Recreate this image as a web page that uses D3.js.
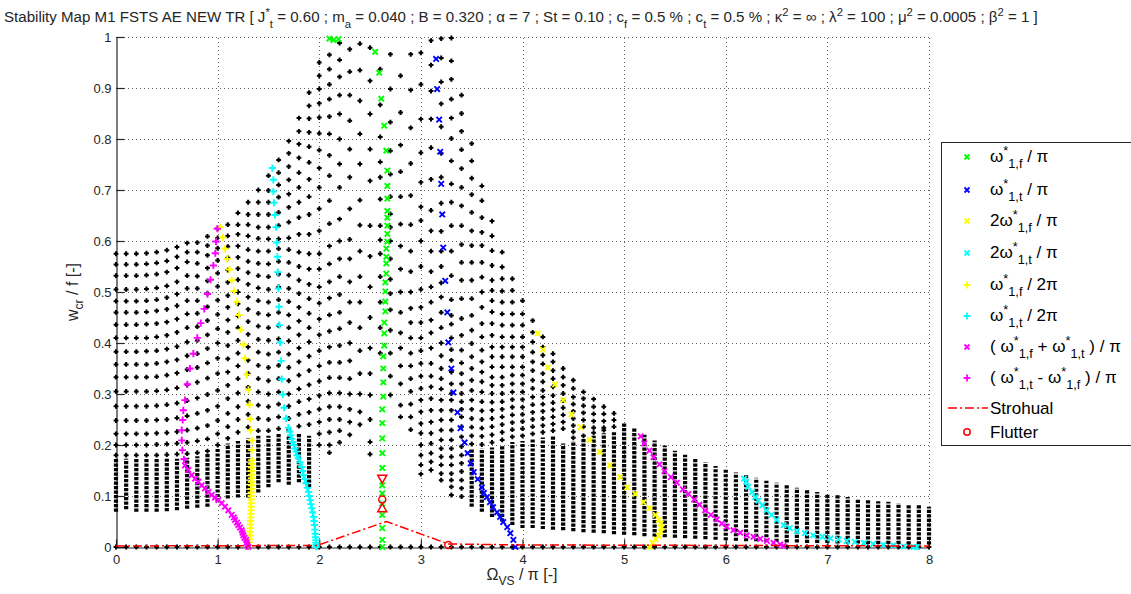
<!DOCTYPE html>
<html>
<head>
<meta charset="utf-8">
<script src="https://cdn.jsdelivr.net/npm/d3@7"></script>
<style>
  body { margin: 0; background: #fff; }
  text { font-family: "Liberation Sans", Arial, Helvetica, sans-serif; white-space: pre; }
</style>
</head>
<body>
<div id="chart"></div>
<script>
// ---- data ----
const xTicks = [0, 1, 2, 3, 4, 5, 6, 7, 8];
const yTicks = [0, 0.1, 0.2, 0.3, 0.4, 0.5, 0.6, 0.7, 0.8, 0.9, 1];

// Omega columns of the black stability points
const colX = [0,.1,.2,.3,.4,.5,.6,.7,.8,.9,1,1.1,1.2,1.3,1.4,1.5,1.6,1.7,1.8,1.9,2,2.1,2.2,2.3,2.4,2.5,2.6,2.7,2.8,2.9,
  3,3.1,3.2,3.3,3.4,3.5,3.6,3.7,3.8,3.9,4,4.1,4.2,4.3,4.4,4.5,4.6,4.7,4.8,4.9,5,5.1,5.2,5.3,5.4,5.5,5.6,5.7,5.8,5.9,
  6,6.1,6.2,6.3,6.4,6.5,6.6,6.7,6.8,6.9,7,7.1,7.2,7.3,7.4,7.5,7.6,7.7,7.8,7.9,8];

// dense part of each column (w_cr in 1/1000), null = no dense band
const bandLo = [72,77,72,72,72,73,75,78,80,82,92,98,100,100,110,120,130,125,130,120,
  null,null,null,null,null,null,null,null,null,null,null,null,null,null,null,
  82,72,62,53,46,40,40,38,37,36,34,32,31,30,28,27,26,24,23,22,21,20,19,18,17,
  16,15,14,14,13,13,12,12,11,11,11,10,10,10,9,9,9,9,8,8,8];
const bandHi = [170,170,170,170,170,170,170,172,175,180,190,200,205,210,215,215,220,215,220,215,
  null,null,null,null,null,null,null,null,null,null,null,null,null,null,null,
  190,190,192,197,203,205,210,212,215,200,205,210,215,220,222,240,230,217,206,196,186,178,170,163,156,
  149,143,138,133,127,123,118,113,109,105,101,99,95,92,90,87,86,83,80,79,76];

// single points of each column (w_cr in 1/1000)
const colDots = [
  [180,200,222,248,276,305,333,358,383,410,436,460,482,505,532,554,575],
  [180,200,222,248,276,305,333,358,383,410,436,460,482,505,532,554,575],
  [180,200,222,248,276,305,333,358,383,410,436,460,482,505,532,554,575],
  [180,200,222,248,276,305,333,358,384,410,437,461,483,506,533,555,576],
  [180,201,223,249,277,306,334,360,385,412,438,463,485,508,535,557,578],
  [181,202,224,250,279,308,337,363,388,415,441,466,489,512,539,561,582],
  [182,203,226,253,282,312,341,367,393,421,447,473,496,520,547,569,588],
  [183,205,229,257,287,318,348,375,402,430,457,483,507,532,559,578,596],
  [185,208,233,262,292,323,352,379,405,432,458,483,507,531,556,578,597],
  [188,212,238,268,299,331,361,389,416,444,471,497,522,547,572,591,609],
  [200,222,248,276,307,340,370,400,428,456,484,511,537,562,586,606,625],
  [213,236,262,291,317,343,369,395,421,445,470,493,519,543,567,589,610,632],
  [225,250,275,302,330,355,380,405,430,453,477,500,524,546,568,590,613,632,655],
  [235,260,286,313,340,366,392,417,442,466,490,515,538,560,583,610,632,652,676],
  [228,252,278,304,330,356,382,407,433,458,483,508,532,556,580,605,627,652,676,700],
  [228,250,275,300,326,352,378,405,430,455,480,505,530,555,580,604,627,652,676,699,728],
  [232,255,280,304,330,356,382,408,434,460,485,510,535,560,585,604,630,656,686,710,734,759],
  [230,252,276,300,326,352,378,404,430,455,481,507,533,558,583,606,637,666,692,720,746,772,796],
  [237,260,285,310,337,363,390,416,443,470,497,523,550,578,613,646,676,705,734,763,790,815,841],
  [240,264,290,318,346,374,402,430,458,487,515,545,575,613,652,687,721,754,785,813,840,865,891],
  [200,222,245,270,297,325,355,385,416,447,478,510,545,575,620,663,705,743,778,811,842,870,898,924,950],
  [185,200,225,250,275,302,332,362,392,423,455,488,520,555,590,634,679,728,768,810,844,878,907,937,965],
  [205,228,250,275,302,332,362,395,428,460,495,530,565,600,643,705,751,800,849,886,922,955,988],
  [220,245,270,300,330,365,400,440,480,520,565,603,663,725,780,836,886,932,976],
  [240,265,300,340,385,430,480,530,580,631,680,751,810,875,935,987],
  [182,206,250,298,340,390,450,510,570,630,718,780,849,914,979],
  [380,430,480,530,575,602,630,682,725,755,804,867,937],
  [298,335,380,425,465,497,525,565,600,627,653,687,731,777,833,898,966],
  [255,278,320,355,390,420,460,500,545,590,633,687,736,788,852,924],
  [230,255,280,305,330,355,380,410,440,468,500,540,580,632,689,752,822,896,966],
  [143,161,180,200,223,242,265,288,311,335,360,385,410,440,470,505,550,600,640,667,715,773,839,907,969],
  [151,167,184,203,223,245,268,291,314,335,360,390,420,445,480,510,540,580,620,660,721,783,839,894,945,993],
  [131,144,161,177,193,210,229,249,268,288,310,330,350,375,400,430,460,490,518,550,580,619,674,725,772,824,869,912,959,997],
  [102,118,131,144,161,177,193,210,229,249,268,288,301,320,343,366,387,410,437,454,485,532,580,630,676,712,757,801,841,878,917,953,998],
  [99,115,131,148,164,180,197,216,236,255,270,285,301,320,340,361,386,415,448,487,523,558,593,630,669,705,742,779,815,850,886],
  [202,218,235,252,270,288,307,327,350,373,399,425,454,487,523,558,591,620,656,691,723,757,791],
  [201,217,233,250,267,285,304,324,343,363,386,412,438,470,500,529,558,591,617,646,679,708],
  [205,220,236,252,268,284,301,317,333,353,373,392,415,438,461,483,503,523,552,581,610,639],
  [210,225,240,255,270,285,301,317,333,353,373,392,412,435,457,480,502,526,549,578],
  [216,230,244,259,274,289,304,320,337,353,373,392,412,435,457,480,503,526],
  [218,232,246,260,274,289,304,320,337,353,373,392,412,435,457,483],
  [222,236,250,264,279,294,311,327,346,363,382,402,421,444],
  [225,238,252,266,280,294,307,324,340,359,376,392,412],
  [228,241,255,269,283,297,314,330,346,363,379],
  [232,245,259,273,287,301,317,333,350],
  [214,226,238,252,266,280,294,311,327],
  [218,236,249,263,277,291,304],
  [224,234,247,261,275,290],
  [229,234,247,261,275],
  [236,249,262],
  [],[],[],[],[],[],[],[],[],[],[],[],[],[],[],[],[],[],[],[],[],[],[],[],[],[],[],[],[],[],[]
];

// resonance curves [Omega/pi, w_cr/f]
const omega1f = [[2.10,.997],[2.14,.994],[2.19,.996],[2.55,.971],[2.59,.93],[2.61,.879],[2.64,.826],[2.66,.777],
  [2.67,.738],[2.67,.708],[2.67,.683],[2.67,.659],[2.67,.646],[2.67,.63],[2.67,.614],[2.67,.599],[2.66,.585],
  [2.66,.569],[2.66,.556],[2.66,.536],[2.65,.519],[2.65,.501],[2.65,.481],[2.65,.462],[2.64,.44],[2.64,.419],
  [2.64,.395],[2.63,.374],[2.63,.35],[2.63,.323],[2.63,.295],[2.62,.27],[2.62,.243],[2.62,.213],[2.62,.184],
  [2.62,.155],[2.62,.121],[2.62,.105],[2.62,.085],[2.62,.063],[2.62,.037],[2.62,.014],[2.62,0]];
const omega1t = [[3.15,.957],[3.16,.898],[3.18,.838],[3.19,.775],[3.2,.712],[3.21,.652],[3.22,.587],[3.24,.522],
  [3.26,.46],[3.27,.401],[3.3,.35],[3.32,.303],[3.36,.264],[3.39,.233],[3.43,.205],[3.46,.184],[3.49,.164],
  [3.52,.147],[3.56,.133],[3.6,.117],[3.62,.106],[3.65,.098],[3.68,.088],[3.71,.078],[3.75,.068],[3.78,.059],
  [3.81,.049],[3.85,.039],[3.88,.027],[3.91,.014],[3.93,0]];
const twoOmega1f = [[4.15,.419],[4.2,.387],[4.25,.352],[4.32,.319],[4.4,.288],[4.48,.26],[4.57,.235],[4.66,.21],
  [4.76,.186],[4.86,.16],[4.96,.137],[5.03,.117],[5.11,.104],[5.19,.088],[5.25,.076],[5.31,.063],[5.34,.053],
  [5.36,.046],[5.37,.038],[5.36,.03],[5.34,.022],[5.31,.015],[5.28,.008],[5.25,0]];
const twoOmega1t = [[6.18,.134],[6.2,.128],[6.22,.118],[6.26,.108],[6.29,.098],[6.32,.091],[6.36,.082],[6.4,.072],
  [6.45,.063],[6.5,.053],[6.57,.043],[6.63,.037],[6.7,.031],[6.78,.027],[6.86,.023],[6.95,.02],[7.03,.017],
  [7.11,.015],[7.19,.012],[7.27,.01],[7.36,.008],[7.45,.006],[7.55,.004],[7.65,.003],[7.75,.001],[7.85,0],[7.88,0]];
const halfOmega1f = [[1.024,.627],[1.05,.607],[1.073,.585],[1.095,.565],[1.115,.544],[1.139,.523],[1.161,.502],
  [1.188,.481],[1.211,.455],[1.228,.426],[1.253,.397],[1.27,.37],[1.287,.338],[1.303,.308],[1.313,.279],
  [1.319,.251],[1.326,.229],[1.336,.209],[1.336,.19],[1.336,.17],[1.335,.163],[1.335,.156],[1.335,.149],
  [1.335,.142],[1.334,.135],[1.333,.128],[1.333,.121],[1.332,.114],[1.331,.107],[1.33,.1],[1.33,.093],
  [1.33,.086],[1.329,.079],[1.328,.072],[1.327,.065],[1.326,.058],[1.325,.051],[1.323,.044],[1.321,.037],
  [1.319,.03],[1.317,.023],[1.314,.016],[1.311,.009],[1.307,.003]];
const halfOmega1t = [[1.538,.743],[1.548,.72],[1.548,.697],[1.555,.675],[1.565,.651],[1.575,.627],[1.582,.597],
  [1.588,.569],[1.592,.539],[1.598,.507],[1.604,.471],[1.607,.435],[1.614,.401],[1.624,.365],[1.631,.329],
  [1.641,.299],[1.654,.273],[1.673,.252],[1.696,.234],[1.71,.226],[1.719,.219],[1.73,.212],[1.739,.206],
  [1.75,.2],[1.762,.193],[1.772,.187],[1.78,.18],[1.794,.174],[1.81,.166],[1.828,.157],[1.836,.149],
  [1.844,.141],[1.857,.133],[1.87,.125],[1.882,.116],[1.894,.108],[1.902,.1],[1.91,.092],[1.918,.084],
  [1.927,.076],[1.935,.068],[1.943,.059],[1.948,.051],[1.953,.043],[1.957,.034],[1.96,.026],[1.963,.019],
  [1.966,.013],[1.968,.008],[1.969,.004],[1.97,0]];
const sumOmega = [[0.679,.16],[0.712,.151],[0.745,.141],[0.778,.134],[0.81,.128],[0.843,.121],[0.876,.115],
  [0.909,.108],[0.942,.102],[0.974,.097],[1.007,.092],[1.04,.086],[1.073,.079],[1.105,.072],[1.138,.063],
  [1.16,.058],[1.171,.053],[1.19,.048],[1.204,.043],[1.22,.038],[1.237,.033],[1.245,.028],[1.253,.023],
  [1.265,.018],[1.28,.014],[1.287,.009],[1.293,.004],[1.302,0],
  [5.164,.217],[5.197,.203],[5.249,.189],[5.289,.176],[5.348,.162],[5.397,.149],[5.46,.137],[5.519,.126],
  [5.578,.113],[5.633,.104],[5.689,.093],[5.741,.083],[5.797,.072],[5.853,.063],[5.912,.054],[5.961,.046],
  [6.01,.04],[6.076,.033],[6.142,.028],[6.207,.023],[6.273,.02],[6.339,.016],[6.405,.012],[6.47,.008],
  [6.536,.005],[6.568,.002]];
const diffOmega = [[0.997,.624],[0.984,.599],[0.977,.576],[0.958,.552],[0.93,.524],[0.9,.496],[0.868,.467],
  [0.834,.439],[0.8,.41],[0.761,.379],[0.728,.35],[0.702,.319],[0.679,.288],[0.662,.268],[0.656,.249],
  [0.647,.229],[0.647,.209],[0.653,.19],[0.669,.172]];
const strouhal = [[0,.002],[1.98,.003],[2.66,.05],[3.27,.006],[4,.004],[8,.002]];
const flutter = [[2.62,.093],[3.27,.004]];
const flutterDown = [[2.62,.134]];
const flutterUp = [[2.62,.076]];

// ---- drawing ----
const W = 1131, H = 594;
const svg = d3.select("#chart").append("svg").attr("width", W).attr("height", H);
const x = d3.scaleLinear().domain([0, 8]).range([116, 929]);
const y = d3.scaleLinear().domain([0, 1]).range([547, 37]);
const ink = "#262626";

// writes text with sub (1) / superscript (2) parts
function rich(t, parts, size, subDy, supDy) {
  let cur = 0;
  parts.forEach(([s, m]) => {
    const off = m === 1 ? subDy : m === 2 ? -supDy : 0;
    t.append("tspan").attr("dy", off - cur).attr("font-size", m ? size * 0.75 : size).text(s);
    cur = off;
  });
  return t;
}

// title
rich(svg.append("text").attr("x", 4).attr("y", 22).attr("fill", ink),
  [["Stability Map M1 FSTS AE NEW TR [ J"], ["*", 2], ["t", 1], [" = 0.60 ; m"], ["a", 1],
   [" = 0.040 ; B = 0.320 ; α = 7 ; St = 0.10 ; c"], ["f", 1], [" = 0.5 % ; c"], ["t", 1],
   [" = 0.5 % ; κ"], ["2", 2], [" = ∞ ; λ"], ["2", 2], [" = 100 ; μ"], ["2", 2], [" = 0.0005 ; β"], ["2", 2],
   [" = 1 ]"]], 15.1, 6, 6);

// dotted grid
const grid = svg.append("g").attr("stroke", "#666").attr("stroke-dasharray", "1,3")
  .attr("shape-rendering", "crispEdges");
grid.selectAll(".gx").data(xTicks.slice(1)).join("line")
  .attr("x1", d => Math.round(x(d)) + 0.5).attr("x2", d => Math.round(x(d)) + 0.5)
  .attr("y1", y(0)).attr("y2", y(1));
grid.selectAll(".gy").data(yTicks.slice(1)).join("line")
  .attr("y1", d => Math.round(y(d)) + 0.5).attr("y2", d => Math.round(y(d)) + 0.5)
  .attr("x1", x(0)).attr("x2", x(8));

// axes (ticks pointing inward, MATLAB style)
const yAxis = d3.axisLeft(y).tickValues(yTicks).tickSize(-8).tickSizeOuter(0).tickPadding(5)
  .tickFormat(d3.format("~g"));
const xAxis = d3.axisBottom(x).tickValues(xTicks).tickSize(-8).tickSizeOuter(0).tickPadding(7)
  .tickFormat(d3.format("~g"));
[svg.append("g").attr("transform", `translate(${x(0) + 0.5},0)`).call(yAxis),
 svg.append("g").attr("transform", `translate(0,${y(0) + 0.5})`).call(xAxis)].forEach(g => {
  g.select(".domain").attr("stroke", ink).attr("stroke-width", 1.2);
  g.selectAll(".tick line").attr("stroke", ink).attr("stroke-width", 1.2);
  g.selectAll("text").attr("fill", ink).attr("font-size", 13)
    .attr("font-family", '"Liberation Sans", Arial, sans-serif');
});

// axis labels
rich(svg.append("text").attr("transform", "translate(78,292) rotate(-90)").attr("text-anchor", "middle")
    .attr("fill", ink), [["w"], ["cr", 1], [" / f [-]"]], 16, 5, 6);
rich(svg.append("text").attr("x", 522).attr("y", 580).attr("text-anchor", "middle")
    .attr("fill", ink), [["Ω"], ["VS", 1], [" / π [-]"]], 16, 5, 6);

const plot = svg.append("g");

// black stability points: dense bands + single points + baseline row
plot.append("g").selectAll("line").data(colX.map((c, i) => [c, bandLo[i], bandHi[i]]).filter(d => d[1] != null))
  .join("line")
  .attr("x1", d => x(d[0])).attr("x2", d => x(d[0]))
  .attr("y1", d => y(d[1] / 1000) + 1.5).attr("y2", d => y(d[2] / 1000) - 1.5)
  .attr("stroke", "#000").attr("stroke-width", 4.2).attr("stroke-dasharray", "3.2,1.3");
const singles = [];
colX.forEach((c, i) => { colDots[i].forEach(v => singles.push([c, v / 1000])); singles.push([c, 0]); });
const dotShape = "M-1,-2.4h2v1.4h1.4v2h-1.4v1.4h-2v-1.4h-1.4v-2h1.4z";
plot.append("g").selectAll("path").data(singles).join("path")
  .attr("transform", d => `translate(${x(d[0])},${y(d[1])})`)
  .attr("d", dotShape).attr("fill", "#000");

const shapes = {
  x: s => `M${-s},${-s}L${s},${s}M${-s},${s}L${s},${-s}`,
  plus: s => `M${-s},0H${s}M0,${-s}V${s}`
};
function marks(pts, shape, color) {
  plot.append("g").selectAll("path").data(pts).join("path")
    .attr("transform", d => `translate(${x(d[0])},${y(d[1])})`)
    .attr("d", shape === "x" ? shapes.x(2.7) : shapes.plus(3.6))
    .attr("fill", "none").attr("stroke", color).attr("stroke-width", 1.9);
}

const series = [
  { pts: omega1f, shape: "x", color: "#00ff00", label: [["ω"], ["*", 2], ["1,f", 1], [" / π"]] },
  { pts: omega1t, shape: "x", color: "#0000ff", label: [["ω"], ["*", 2], ["1,t", 1], [" / π"]] },
  { pts: twoOmega1f, shape: "x", color: "#ffff00", label: [["2ω"], ["*", 2], ["1,f", 1], [" / π"]] },
  { pts: twoOmega1t, shape: "x", color: "#00ffff", label: [["2ω"], ["*", 2], ["1,t", 1], [" / π"]] },
  { pts: halfOmega1f, shape: "plus", color: "#ffff00", label: [["ω"], ["*", 2], ["1,f", 1], [" / 2π"]] },
  { pts: halfOmega1t, shape: "plus", color: "#00ffff", label: [["ω"], ["*", 2], ["1,t", 1], [" / 2π"]] },
  { pts: sumOmega, shape: "x", color: "#ff00ff",
    label: [["( ω"], ["*", 2], ["1,f", 1], [" + ω"], ["*", 2], ["1,t", 1], [" ) / π"]] },
  { pts: diffOmega, shape: "plus", color: "#ff00ff",
    label: [["( ω"], ["*", 2], ["1,t", 1], [" - ω"], ["*", 2], ["1,f", 1], [" ) / π"]] }
];
series.forEach(s => marks(s.pts, s.shape, s.color));

// Strouhal line
plot.append("path").datum(strouhal)
  .attr("d", d3.line().x(d => x(d[0])).y(d => y(d[1])))
  .attr("fill", "none").attr("stroke", "#ff0000").attr("stroke-width", 1.5)
  .attr("stroke-dasharray", "9,3,2,3");

// flutter points
plot.append("g").selectAll("circle").data(flutter).join("circle")
  .attr("cx", d => x(d[0])).attr("cy", d => y(d[1])).attr("r", 3.5)
  .attr("fill", "none").attr("stroke", "#ff0000").attr("stroke-width", 1.5);
plot.append("g").selectAll("path").data(flutterDown).join("path")
  .attr("transform", d => `translate(${x(d[0])},${y(d[1])})`).attr("d", "M-4.5,-3.5L4.5,-3.5L0,4.5Z")
  .attr("fill", "none").attr("stroke", "#ff0000").attr("stroke-width", 1.5);
plot.append("g").selectAll("path").data(flutterUp).join("path")
  .attr("transform", d => `translate(${x(d[0])},${y(d[1])})`).attr("d", "M-4.5,3.5L4.5,3.5L0,-4.5Z")
  .attr("fill", "none").attr("stroke", "#ff0000").attr("stroke-width", 1.5);

// legend
const lg = svg.append("g");
lg.append("rect").attr("x", 941.5).attr("y", 142.5).attr("width", 200).attr("height", 303)
  .attr("fill", "#fff").attr("stroke", ink);
const rowY = [157, 190, 221, 253, 285, 316, 347, 378, 408, 432];
series.forEach((s, i) => {
  lg.append("path").attr("transform", `translate(967,${rowY[i]})`)
    .attr("d", s.shape === "x" ? shapes.x(2.5) : shapes.plus(3.4))
    .attr("fill", "none").attr("stroke", s.color).attr("stroke-width", 1.8);
  rich(lg.append("text").attr("x", 990).attr("y", rowY[i] + 5).attr("fill", "#000"), s.label, 17, 6, 7);
});
lg.append("line").attr("x1", 948).attr("x2", 988).attr("y1", rowY[8]).attr("y2", rowY[8])
  .attr("stroke", "#ff0000").attr("stroke-width", 1.5).attr("stroke-dasharray", "9,3,2,3");
lg.append("text").attr("x", 990).attr("y", rowY[8] + 6).attr("font-size", 17).text("Strohual");
lg.append("circle").attr("cx", 967).attr("cy", rowY[9]).attr("r", 3.2)
  .attr("fill", "none").attr("stroke", "#ff0000").attr("stroke-width", 1.5);
lg.append("text").attr("x", 990).attr("y", rowY[9] + 6).attr("font-size", 17).text("Flutter");
</script>
</body>
</html>
